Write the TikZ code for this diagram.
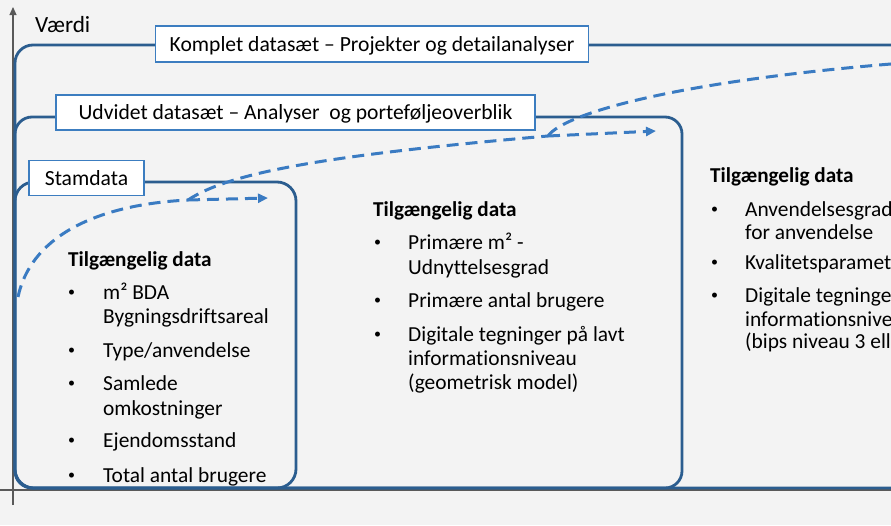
\documentclass[tikz,border=0pt]{standalone}
\usepackage{fontspec}
\setmainfont{Carlito}[Ligatures=NoCommon]
\usetikzlibrary{arrows.meta}
\definecolor{bg}{HTML}{F3F3F3}
\definecolor{boxblue}{HTML}{2B5D8F}
\definecolor{dashblue}{HTML}{3A7BC2}
\definecolor{lblblue}{HTML}{3C7DC0}
\definecolor{axisgray}{HTML}{595959}
\newcommand{\smallbul}{\raisebox{2.3pt}{\fontsize{14}{14}\selectfont •}}
\begin{document}
\begin{tikzpicture}[x=1pt,y=-1pt,
  stage/.style={draw=boxblue,line width=2.8pt},
  lbl/.style={draw=lblblue,line width=1.2pt,fill=white,inner sep=0pt,
    font=\fontsize{21.6}{25}\selectfont,text height=15pt,text depth=1pt},
  txt/.style={anchor=base west,inner sep=0pt,font=\fontsize{21.4}{25}\selectfont},
  bul/.style={anchor=base west,inner sep=0pt},
  hd/.style={txt,font=\fontsize{21.2}{25}\selectfont\bfseries},
  growth/.style={draw=dashblue,line width=3pt,dash pattern=on 12pt off 7pt},
  tipped/.style={-{Triangle[length=10pt,width=9pt]}}
]
\useasboundingbox (0,0) rectangle (891,525);
\fill[bg] (0,0) rectangle (891,525);
\begin{scope}
\clip (0,0) rectangle (891,525);
% axes
\coordinate (ybot) at (13,505);
\coordinate (ytop) at (13,7);
\coordinate (xl) at (0,490);
\coordinate (xr) at (891,490);
\draw[axisgray,line width=1.2pt,-{Triangle[length=8pt,width=7pt]}] (ybot) -- (ytop);
\draw[axisgray,line width=1.5pt] (xl) -- (xr);
\node[anchor=base west,inner sep=0pt,font=\fontsize{23.2}{27}\selectfont] (vaerdi) at (35,32) {Værdi};
% stage boxes
\draw[stage,rounded corners=18pt] (15,488) rectangle (940,45);
\draw[stage,rounded corners=17pt] (15,488) rectangle (682,117);
\draw[stage,rounded corners=19pt] (15,488) rectangle (296,182);
% growth curves
\coordinate (a0) at (18,297);
\coordinate (a1) at (188,200);
\coordinate (a2) at (268,198);
\coordinate (b1) at (548,136);
\coordinate (b2) at (656,131);
\coordinate (c1) at (930,61);
\draw[growth] (a0) .. controls (30,240) and (90,205) .. (a1);
\draw[growth,tipped] (a1) -- (a2);
\draw[growth] (a1) .. controls (230,172) and (330,155) .. (b1);
\draw[growth,tipped] (b1) -- (b2);
\draw[growth] (b1) .. controls (565,112) and (690,78) .. (c1);
% label boxes
\node[lbl,minimum width=433pt,minimum height=36pt] (komplet) at (372,44) {Komplet datasæt – Projekter og detailanalyser};
\node[lbl,minimum width=479pt,minimum height=35pt] (udvidet) at (295.5,112.5) {Udvidet datasæt – Analyser~ og porteføljeoverblik};
\node[lbl,minimum width=115pt,minimum height=35pt] (stamdata) at (86.5,178) {Stamdata};
% Stamdata column
\node[hd] (sh) at (68,266) {Tilgængelig data};
\foreach \py [count=\i] in {299,357,390,447,482}
  \node[bul] (sb\i) at (68,\py) {\smallbul};
\foreach \py/\ptext [count=\i] in {299/{m² BDA},323/{Bygningsdriftsareal},357/{Type/anvendelse},390/{Samlede},415/{omkostninger},447/{Ejendomsstand},482/{Total antal brugere}}
  \node[txt] (st\i) at (103,\py) {\ptext};
% Udvidet column
\node[hd] (uh) at (373,216) {Tilgængelig data};
\foreach \py [count=\i] in {249,307,341}
  \node[bul] (ub\i) at (374,\py) {\smallbul};
\foreach \py/\ptext [count=\i] in {249/{Primære m² -},274/{Udnyttelsesgrad},307/{Primære antal brugere},341/{Digitale tegninger på lavt},365/{informationsniveau},389/{(geometrisk model)}}
  \node[txt] (ut\i) at (408,\py) {\ptext};
% Komplet column
\node[hd] (kh) at (710,182) {Tilgængelig data};
\foreach \py [count=\i] in {216,269,302}
  \node[bul] (kb\i) at (711,\py) {\smallbul};
\foreach \py/\ptext [count=\i] in {216/{Anvendelsesgrad},239/{for anvendelse},269/{Kvalitetsparamet},302/{Digitale tegninge},326/{informationsnive},348/{(bips niveau 3 ell}}
  \node[txt] (kt\i) at (745,\py) {\ptext};
\end{scope}
\end{tikzpicture}
\end{document}
